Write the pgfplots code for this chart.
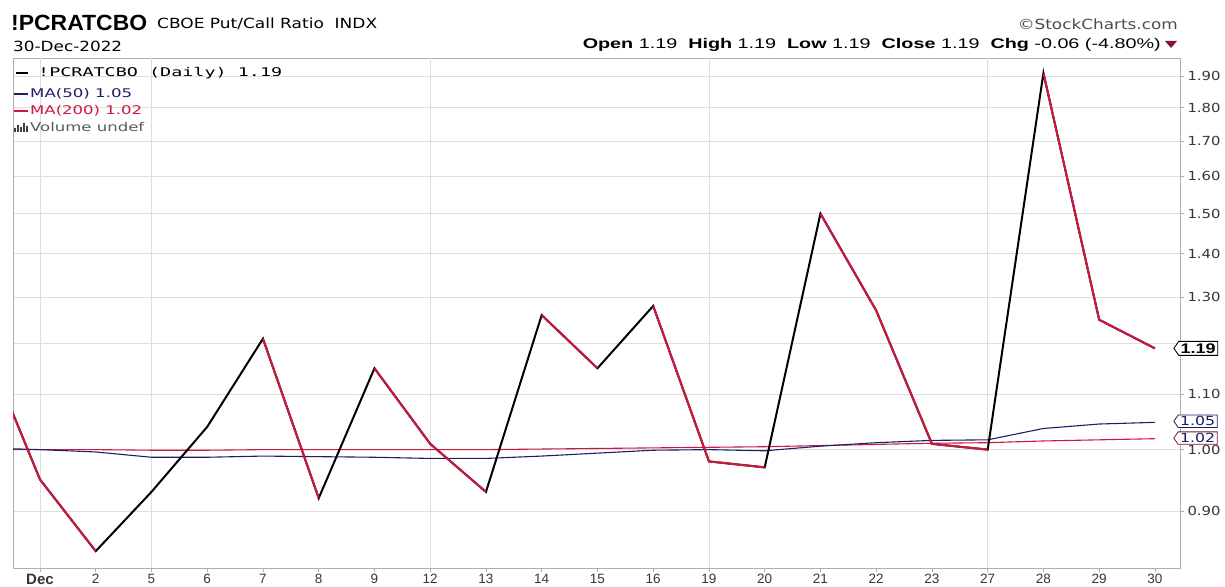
\documentclass[border=0pt]{standalone}
\usepackage{fontspec}
\setmainfont{Liberation Sans}
\newfontfamily\dv{DejaVu Sans}
\newfontfamily\dvm{DejaVu Sans Mono}
\usepackage{graphicx}
\usepackage{pgfplots}
\pgfplotsset{compat=1.18}
\usetikzlibrary{shapes.symbols}
\definecolor{pcred}{RGB}{204,24,62}
\definecolor{pcnavy}{RGB}{30,30,100}
\definecolor{gridc}{RGB}{222,222,222}
\definecolor{framec}{RGB}{175,175,175}
\definecolor{tickc}{RGB}{55,55,55}
\definecolor{maroon}{RGB}{130,20,50}
\newcommand{\fs}[1]{\fontsize{#1}{#1}\selectfont}
\newcommand{\rw}[2]{\resizebox{#1pt}{\height}{#2}}
\newcommand{\yl}[1]{\rw{33}{#1}}
\begin{document}
\begin{tikzpicture}[x=1pt,y=1pt]
\begin{axis}[
  at={(13pt,18pt)}, anchor=south west, scale only axis,
  width=1167pt, height=510pt,
  xmin=-0.484, xmax=20.45,
  ymode=log, ymin=0.816, ymax=1.960,
  axis line style={draw=framec, line width=0.6pt},
  xtick={0,...,20},
  xticklabels={\textbf{\fs{15}Dec},2,5,6,7,8,9,12,13,14,15,16,19,20,21,22,23,27,28,29,30},
  xtick pos=bottom, ytick pos=right, tick align=outside,
  major tick length=4pt, tick style={draw=framec, line width=0.6pt},
  ytick={0.9,1.0,1.1,1.2,1.3,1.4,1.5,1.6,1.7,1.8,1.9},
  yticklabels={\yl{0.90},\yl{1.00},\yl{1.10},{},\yl{1.30},\yl{1.40},\yl{1.50},\yl{1.60},\yl{1.70},\yl{1.80},\yl{1.90}},
  yticklabel pos=right,
  ymajorgrids, major grid style={draw=gridc, line width=0.6pt},
  extra x ticks={0,2,7,12,17}, extra x tick labels={},
  extra x tick style={grid=major, major tick length=0pt},
  x tick label style={font=\fs{13.5}, text=tickc, yshift=1pt},
  y tick label style={font=\dv\fs{12.5}, text=tickc},
  clip mode=individual,
]
% MA(200)
\addplot[pcred, line width=1.1pt] coordinates {(-1,1.000)(0,1.000)(1,1.000)(2,0.999)(3,0.999)(4,1.000)(5,1.000)(6,1.000)(7,1.000)(8,1.000)(9,1.001)(10,1.002)(11,1.003)(12,1.004)(13,1.005)(14,1.007)(15,1.009)(16,1.011)(17,1.012)(18,1.015)(19,1.017)(20,1.019)};
% MA(50)
\addplot[pcnavy, line width=1.1pt] coordinates {(-1,1.003)(0,1.000)(1,0.996)(2,0.987)(3,0.987)(4,0.989)(5,0.988)(6,0.987)(7,0.985)(8,0.985)(9,0.989)(10,0.994)(11,0.999)(12,1.000)(13,0.998)(14,1.006)(15,1.012)(16,1.016)(17,1.017)(18,1.037)(19,1.045)(20,1.048)};
% price (black = rising)
\addplot[black, line width=2pt] coordinates {(-1,1.20)(0,0.95)(1,0.84)(2,0.93)(3,1.04)(4,1.21)(5,0.92)(6,1.15)(7,1.01)(8,0.93)(9,1.26)(10,1.15)(11,1.28)(12,0.98)(13,0.97)(14,1.50)(15,1.27)(16,1.01)(17,1.00)(18,1.91)(19,1.25)(20,1.19)};
% price falling segments
\addplot[pcred, line width=2pt] coordinates {(-1,1.20)(0,0.95)(1,0.84)};
\addplot[pcred, line width=2pt] coordinates {(4,1.21)(5,0.92)};
\addplot[pcred, line width=2pt] coordinates {(6,1.15)(7,1.01)(8,0.93)};
\addplot[pcred, line width=2pt] coordinates {(9,1.26)(10,1.15)};
\addplot[pcred, line width=2pt] coordinates {(11,1.28)(12,0.98)(13,0.97)};
\addplot[pcred, line width=2pt] coordinates {(14,1.50)(15,1.27)(16,1.01)(17,1.00)};
\addplot[pcred, line width=2pt] coordinates {(18,1.91)(19,1.25)(20,1.19)};
\coordinate (b119) at (axis cs:20.33,1.19);
\coordinate (b105) at (axis cs:20.33,1.05);
\coordinate (b102) at (axis cs:20.33,1.02);
\end{axis}
% value boxes
\node[signal, signal to=west, signal pointer angle=110, draw=black, line width=0.9pt, fill=white, inner xsep=2pt, inner ysep=2pt, anchor=west, font=\bfseries\fs{14}] at (b119) {\rw{35}{1.19}};
\node[signal, signal to=west, signal pointer angle=110, draw=pcnavy, line width=0.8pt, fill=white, inner xsep=2pt, inner ysep=1.5pt, anchor=west, text=pcnavy, font=\dv\fs{12.5}] at (b105) {\rw{35}{1.05}};
\node[signal, signal to=west, signal pointer angle=110, draw=maroon, line width=0.8pt, fill=white, inner xsep=2pt, inner ysep=1.5pt, anchor=west, text=pcnavy, font=\dv\fs{12.5}] at (b102) {\rw{35}{1.02}};
% header
\node[anchor=base west, inner sep=0] at (11,555) {\rw{136}{\bfseries\fs{22}!PCRATCBO}};
\node[anchor=base west, inner sep=0] at (157,557) {\rw{220}{\dv\fs{14}CBOE Put/Call Ratio\ \ INDX}};
\node[anchor=base west, inner sep=0] at (13,534) {\rw{109}{\dv\fs{14}30-Dec-2022}};
\node[anchor=base east, inner sep=0, text=black!70] at (1178,556) {\rw{160}{\dv\fs{14}\textcopyright StockCharts.com}};
\node[anchor=base east, inner sep=0] at (1161,537) {\rw{578}{\fs{14}\textbf{Open} 1.19\ \ \textbf{High} 1.19\ \ \textbf{Low} 1.19\ \ \textbf{Close} 1.19\ \ \textbf{Chg} -0.06 (-4.80\%)}};
\fill[maroon] (1165,545) -- (1177,545) -- (1171,538) -- cycle;
% legend
\draw[black, line width=2pt] (16,513) -- (28,513);
\node[anchor=base west, inner sep=0] at (38,509) {\rw{244}{\dvm\fs{12}!PCRATCBO (Daily) 1.19}};
\draw[pcnavy, line width=2pt] (14,492) -- (28,492);
\node[anchor=base west, inner sep=0, text=pcnavy] at (30,488) {\rw{102}{\dv\fs{12}MA(50) 1.05}};
\draw[pcred, line width=2pt] (14,475) -- (28,475);
\node[anchor=base west, inner sep=0, text=pcred] at (30,471) {\rw{112}{\dv\fs{12}MA(200) 1.02}};
\fill[black!75] (14,454) rectangle (15.8,458) (17,454) rectangle (18.8,461) (20,454) rectangle (21.8,459) (23,454) rectangle (24.8,463) (26,454) rectangle (27.8,460);
\node[anchor=base west, inner sep=0, text=black!65] at (30,454) {\rw{114}{\dv\fs{12}Volume undef}};
\pgfresetboundingbox
\useasboundingbox (0,0) rectangle (1225,586);
\end{tikzpicture}
\end{document}
